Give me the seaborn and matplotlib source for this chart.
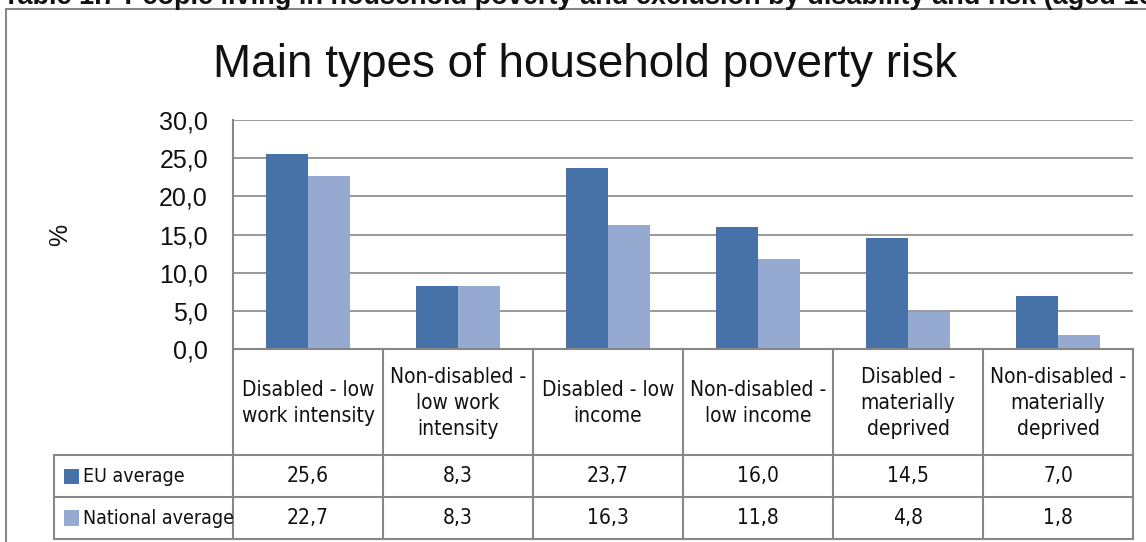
import matplotlib
matplotlib.use("Agg")
import matplotlib.pyplot as plt
import matplotlib.transforms as mtransforms
from matplotlib import font_manager
from matplotlib.patches import Rectangle
from matplotlib.lines import Line2D
import seaborn as sns
import pandas as pd

# ---- data -------------------------------------------------------------
categories = [
    "Disabled - low\nwork intensity",
    "Non-disabled -\nlow work\nintensity",
    "Disabled - low\nincome",
    "Non-disabled -\nlow income",
    "Disabled -\nmaterially\ndeprived",
    "Non-disabled -\nmaterially\ndeprived",
]
series_names = ["EU average", "National average"]
eu_average = [25.6, 8.3, 23.7, 16.0, 14.5, 7.0]
national_average = [22.7, 8.3, 16.3, 11.8, 4.8, 1.8]
y_ticks = [0, 5, 10, 15, 20, 25, 30]

title = "Main types of household poverty risk"
header = ("Table 1.7 People living in household poverty and exclusion "
          "by disability and risk (aged 16-64)")

colors = ["#4672A8", "#95A9D1"]
grid_col = "#878787"

# ---- fonts ------------------------------------------------------------
sns.set_theme(style="white")
available = {f.name for f in font_manager.fontManager.ttflist}
main_font = "Liberation Sans" if "Liberation Sans" in available else "DejaVu Sans"
if "Liberation Sans Narrow" in available:
    cell_font = dict(family="Liberation Sans Narrow", size=17)
    legend_font = dict(family="Liberation Sans Narrow", size=16.5)
else:
    cell_font = dict(family="DejaVu Sans", stretch="condensed", size=15)
    legend_font = dict(family="DejaVu Sans", stretch="condensed", size=14)
plt.rcParams["font.family"] = [main_font, "DejaVu Sans"]

W, H = 1146, 542
fig = plt.figure(figsize=(W / 100, H / 100), dpi=100)


def fx(px):
    return px / W


def fy(py):
    return 1 - py / H


# outer chart frame
fig.patches.append(Rectangle((fx(6), fy(H + 20)), 2, fy(9) - fy(H + 20),
                             transform=fig.transFigure, fill=False,
                             edgecolor=grid_col, linewidth=1.5))

# caption above the chart frame, running off the top of the page
fig.text(fx(3), fy(4), header, fontsize=19.5, fontweight="bold",
         va="baseline", ha="left", color="#111111")

fig.text(fx(585), fy(77), title, fontsize=33, va="baseline", ha="center",
         color="#111111")

# ---- bars -------------------------------------------------------------
left, right, top, zero = 233, 1133, 120, 349
ax = fig.add_axes([fx(left), fy(zero), fx(right) - fx(left), fy(top) - fy(zero)])

df = pd.DataFrame({
    "category": categories * 2,
    "series": [series_names[0]] * len(categories) + [series_names[1]] * len(categories),
    "value": eu_average + national_average,
})
sns.barplot(data=df, x="category", y="value", hue="series", order=categories,
            hue_order=series_names, palette=colors, saturation=1, width=0.56,
            edgecolor="none", legend=False, ax=ax)

ax.set_xlim(-0.5, len(categories) - 0.5)
ax.set_ylim(0, 30)
ax.set_yticks(y_ticks)
ax.set_yticklabels([f"{v:.1f}".replace(".", ",") for v in y_ticks])
ax.tick_params(axis="y", length=0, pad=18, labelsize=18, labelcolor="#111111")
ax.set_xticks([])
ax.set_xlabel("")
ax.set_ylabel("")
ax.yaxis.grid(True, color=grid_col, linewidth=1.2)
ax.set_axisbelow(True)
for side in ["top", "right", "bottom"]:
    ax.spines[side].set_visible(False)
ax.spines["left"].set_color(grid_col)
ax.spines["left"].set_linewidth(1.5)

fig.text(fx(60), fy(235), "%", rotation=90, fontsize=18, ha="center",
         va="center", color="#111111")

# ---- data table -------------------------------------------------------
trans = mtransforms.blended_transform_factory(ax.transData, fig.transFigure)
row_top, row_mid1, row_mid2, row_bot = 349, 455, 497, 539
legend_left = 54
lw = 1.5


def hline(x0, x1, py):
    fig.lines.append(Line2D([fx(x0), fx(x1)], [fy(py), fy(py)],
                            transform=fig.transFigure, color=grid_col, linewidth=lw))


def vline(px, y0, y1):
    fig.lines.append(Line2D([fx(px), fx(px)], [fy(y0), fy(y1)],
                            transform=fig.transFigure, color=grid_col, linewidth=lw))


hline(left, right, row_top)
hline(legend_left, right, row_mid1)
hline(legend_left, right, row_mid2)
hline(legend_left, right, row_bot)
vline(legend_left, row_mid1, row_bot)
n = len(categories)
for k in range(n + 1):
    xpx = ax.transData.transform((k - 0.5, 0))[0]
    vline(xpx, row_top, row_bot)

for i, cat in enumerate(categories):
    ax.text(i, fy((row_top + row_mid1) / 2 + 1), cat, transform=trans,
            ha="center", va="center", linespacing=1.35, color="#111111",
            **cell_font)
    for vals, (ya, yb) in ((eu_average, (row_mid1, row_mid2)),
                           (national_average, (row_mid2, row_bot))):
        ax.text(i, fy((ya + yb) / 2), f"{vals[i]:.1f}".replace(".", ","),
                transform=trans, ha="center", va="center", color="#111111",
                **cell_font)

for name, col, (ya, yb) in zip(series_names, colors,
                               ((row_mid1, row_mid2), (row_mid2, row_bot))):
    yc = (ya + yb) / 2
    fig.patches.append(Rectangle((fx(64), fy(yc + 7.5)), fx(15) - fx(0),
                                 fy(yc - 7.5) - fy(yc + 7.5),
                                 transform=fig.transFigure, facecolor=col,
                                 edgecolor="none"))
    fig.text(fx(83), fy(yc), name, ha="left", va="center", color="#111111",
             **legend_font)

fig.savefig("out.png", dpi=100)
